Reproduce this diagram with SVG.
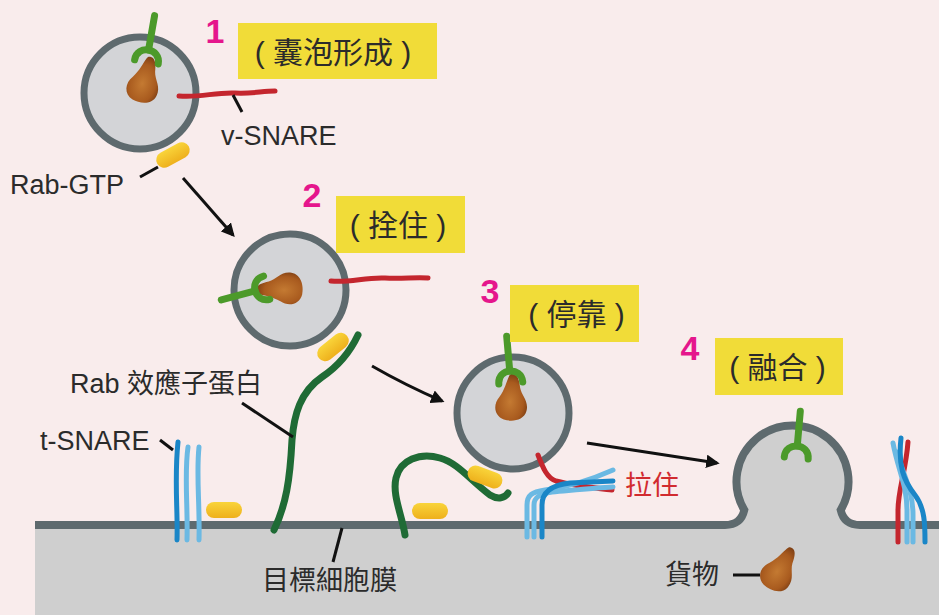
<svg xmlns="http://www.w3.org/2000/svg" width="939" height="615" viewBox="0 0 939 615">
  <defs>
    <style>
      .lbl { font-family: "Liberation Sans", "Noto Sans CJK TC", sans-serif; font-size: 27px; fill: #2b2b2b; }
      .step { font-family: "Liberation Sans", "Noto Sans CJK TC", sans-serif; font-size: 30px; fill: #2b2b2b; text-anchor: middle; }
      .num { font-family: "Liberation Sans", sans-serif; font-size: 34px; font-weight: bold; fill: #e5168c; text-anchor: middle; }
      .box { fill: #f1dc38; }
      .ves { fill: #d3d4d7; stroke: #5e6a6e; stroke-width: 7; }
      .lead { stroke: #111; stroke-width: 3; fill: none; }
      .arrow { stroke: #111; stroke-width: 3; fill: none; marker-end: url(#head); }
      .vsnare { stroke: #c4262e; stroke-width: 5; fill: none; stroke-linecap: round; }
      .tdark { stroke: #1a86c7; stroke-width: 5; fill: none; stroke-linecap: round; }
      .tlight { stroke: #6bb9e3; stroke-width: 5; fill: none; stroke-linecap: round; }
      .tether { stroke: #1f6b35; stroke-width: 7; fill: none; stroke-linecap: round; }
      .rec { stroke: #4c9a2a; stroke-width: 7; fill: none; stroke-linecap: round; }
    </style>
    <marker id="head" viewBox="0 0 10 10" refX="8" refY="5" markerWidth="4.5" markerHeight="4.5" orient="auto">
      <path d="M0,0 L10,5 L0,10 z" fill="#111"/>
    </marker>
    <radialGradient id="cargoFill" cx="0.45" cy="0.6" r="0.6">
      <stop offset="0" stop-color="#c47a32"/>
      <stop offset="0.7" stop-color="#a85a1e"/>
      <stop offset="1" stop-color="#7e3f14"/>
    </radialGradient>
    <linearGradient id="rabFill" x1="0" y1="0" x2="0" y2="1">
      <stop offset="0" stop-color="#f9d43a"/>
      <stop offset="1" stop-color="#eeb01c"/>
    </linearGradient>
    <!-- cargo: narrow tip at origin, bulb along +y -->
    <path id="cargo" d="M0,0 C5,0 7,7 8,13 C10,21 18,26 16,36 C14,46 2,48 -6,46 C-16,43 -18,32 -12,24 C-7,16 -6,8 -4,3 C-3,0 -2,0 0,0 Z" fill="url(#cargoFill)"/>
    <!-- receptor: cup opening toward +y, stem toward -y -->
    <g id="receptor">
      <path class="rec" d="M0,-3 L0,-38"/>
      <path class="rec" d="M-12,9 C-12,-7 12,-7 12,9"/>
    </g>
    <rect id="rab" x="-18" y="-8" width="36" height="16" rx="8" fill="url(#rabFill)"/>
  </defs>

  <rect width="939" height="615" fill="#f9ecec"/>

  <!-- target membrane with the fusing vesicle bulge -->
  <g id="membrane">
    <path d="M35,525 L725,525 Q741,525 744.3,510 A56 56 0 1 1 840.7,510 Q844,525 860,525 L939,525 L939,615 L35,615 Z" fill="#cfcfcf"/>
    <path d="M35,525 L725,525 Q741,525 744.3,510 A56 56 0 1 1 840.7,510 Q844,525 860,525 L939,525" fill="none" stroke="#5e6a6e" stroke-width="8"/>
  </g>

  <!-- step 1: vesicle formation -->
  <g id="vesicle-1">
    <circle class="ves" cx="140" cy="93" r="56"/>
    <use href="#cargo" transform="translate(151,57) rotate(16)"/>
    <use href="#receptor" transform="translate(148,53) rotate(10)"/>
    <path class="vsnare" d="M179,96 C200,98 215,92 235,93 C252,94 262,91 275,91"/>
    <use href="#rab" transform="translate(173,155) rotate(-29)"/>
  </g>

  <!-- step 2: tethering -->
  <g id="vesicle-2">
    <circle class="ves" cx="290" cy="290" r="56"/>
    <use href="#cargo" transform="translate(256,290) rotate(-92)"/>
    <use href="#receptor" transform="translate(258,290) rotate(-105)"/>
    <path class="vsnare" d="M331,281 C350,283 365,277 385,278 C402,279 415,277 428,278"/>
    <use href="#rab" transform="translate(333,347) rotate(-39)"/>
    <path class="tether" d="M358,335 C350,352 340,365 322,377 C300,392 294,415 292,440 C290,480 286,505 274,530"/>
  </g>

  <!-- step 3: docking -->
  <g id="vesicle-3">
    <path class="tether" d="M405,535 C402,515 392,495 396,478 C400,460 420,452 440,458 C458,463 470,480 490,495 C498,500 505,498 508,493"/>
    <use href="#rab" transform="translate(430,511)"/>
    <circle class="ves" cx="513" cy="413" r="56"/>
    <use href="#cargo" transform="translate(513,374) rotate(4)"/>
    <use href="#receptor" transform="translate(510,374) rotate(-5)"/>
    <use href="#rab" transform="translate(485,477) rotate(20)"/>
    <path class="vsnare" d="M538,455 C543,468 547,478 556,481 C575,486 595,488 612,490"/>
    <path class="tlight" d="M527,537 L527,505 C527,495 532,492 545,490 C570,487 595,478 613,470"/>
    <path class="tlight" d="M534,537 L534,505 C534,497 540,494 552,492 C575,490 595,488 613,487"/>
    <path class="tdark" d="M542,537 L542,505 C542,492 552,485 570,483 L613,481"/>
  </g>

  <!-- step 4: fusion -->
  <g id="fusion-4">
    <use href="#receptor" transform="translate(797,449) rotate(5)"/>
    <use href="#cargo" transform="translate(792,548) rotate(30)"/>
  </g>

  <!-- unbound t-SNARE and Rab at the membrane -->
  <g id="t-snare-free">
    <path class="tdark" d="M177,540 C178,510 174,480 178,442"/>
    <path class="tlight" d="M187,540 C188,505 184,475 188,447"/>
    <path class="tlight" d="M199,540 C200,505 196,475 199,447"/>
    <use href="#rab" transform="translate(224,510)"/>
  </g>

  <!-- zippered SNARE complex after fusion -->
  <g id="snare-complex">
    <path class="vsnare" d="M908,442 C906,470 898,490 898,510 L898,542"/>
    <path class="tlight" d="M893,443 C898,470 907,485 907,510 L907,542"/>
    <path class="tlight" d="M897,452 C903,475 913,490 913,515 L913,542"/>
    <path class="tdark" d="M901,438 C898,465 903,480 915,495 C925,508 925,525 925,542"/>
  </g>

  <g id="connectors">
    <path class="arrow" d="M183,178 L233,235"/>
    <path class="arrow" d="M372,366 Q405,385 442,401"/>
    <path class="arrow" d="M587,443 L717,463"/>
    <path class="lead" d="M233,95 L242,112"/>
    <path class="lead" d="M140,177 L158,167"/>
    <path class="lead" d="M242,403 L293,437"/>
    <path class="lead" d="M160,440 L173,450"/>
    <path class="lead" d="M333,562 L342,528"/>
    <path class="lead" d="M733,575 L760,575"/>
  </g>

  <g id="step-titles">
    <text class="num" x="215" y="43">1</text>
    <rect class="box" x="238" y="23" width="199" height="56"/>
    <text class="step" x="333" y="63">( 囊泡形成 )</text>

    <text class="num" x="312" y="207">2</text>
    <rect class="box" x="336" y="196" width="129" height="57"/>
    <text class="step" x="398" y="236">( 拴住 )</text>

    <text class="num" x="490" y="303">3</text>
    <rect class="box" x="510" y="285" width="129" height="57"/>
    <text class="step" x="576.5" y="325">( 停靠 )</text>

    <text class="num" x="690" y="360">4</text>
    <rect class="box" x="715" y="338" width="128" height="57"/>
    <text class="step" x="777.5" y="378">( 融合 )</text>
  </g>

  <g id="labels">
    <text class="lbl" x="221" y="145">v-SNARE</text>
    <text class="lbl" x="10" y="194">Rab-GTP</text>
    <text class="lbl" x="70" y="393">Rab 效應子蛋白</text>
    <text class="lbl" x="40" y="450">t-SNARE</text>
    <text class="lbl" x="262" y="590">目標細胞膜</text>
    <text class="lbl" x="665" y="584">貨物</text>
    <text class="lbl" x="625" y="495" style="fill:#d12b2f">拉住</text>
  </g>
</svg>
